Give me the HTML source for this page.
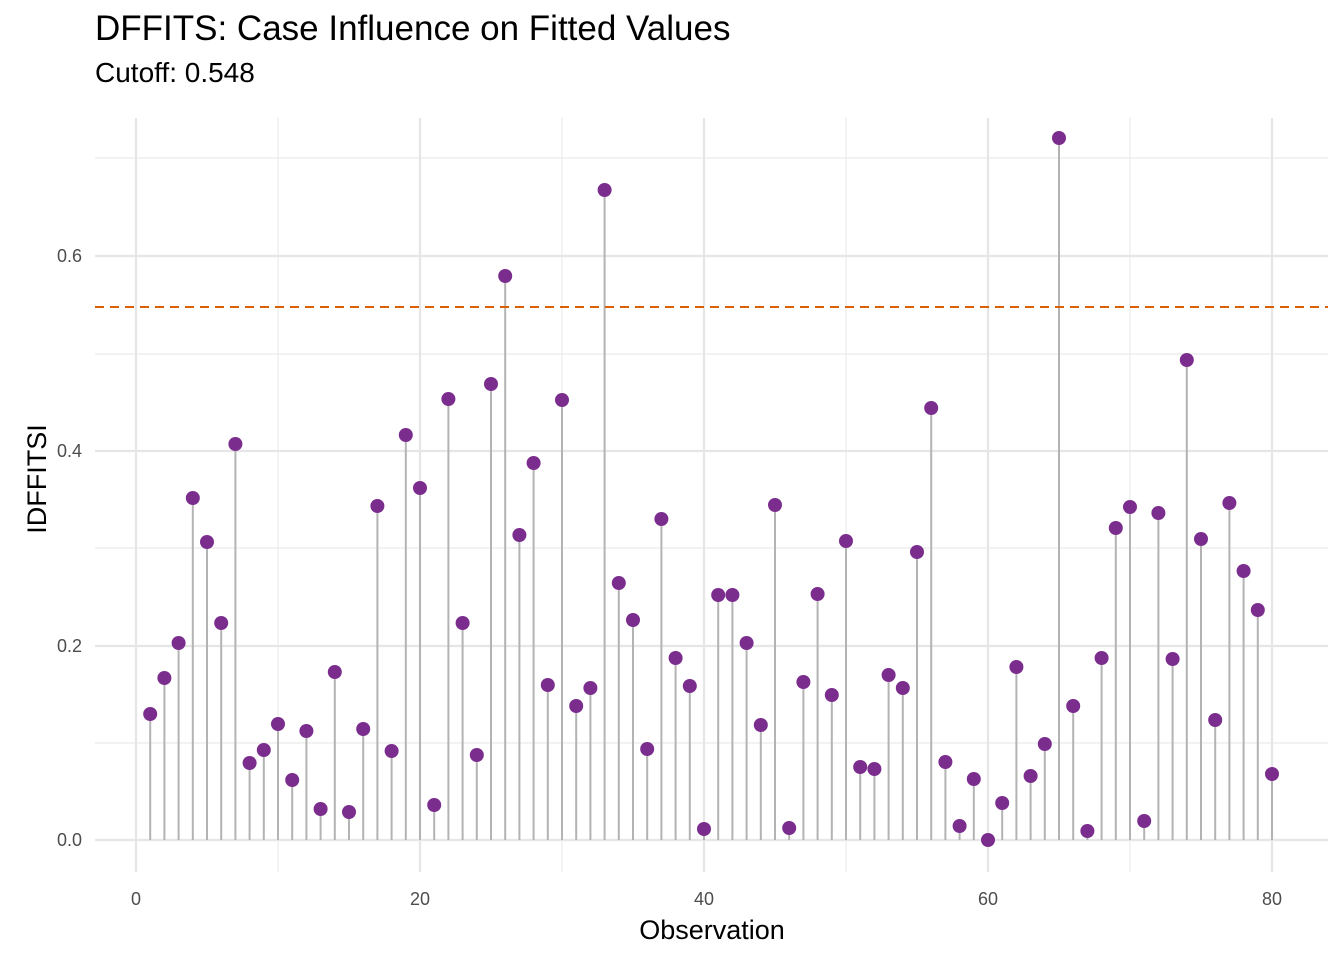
<!DOCTYPE html>
<html><head><meta charset="utf-8"><style>
html,body{margin:0;padding:0;background:#fff;}
svg{display:block;font-family:"Liberation Sans",Arial,sans-serif;}
</style></head><body>
<svg width="1344" height="960" viewBox="0 0 1344 960" xmlns="http://www.w3.org/2000/svg">
<rect width="1344" height="960" fill="#fff"/>
<g stroke="#ebebeb" stroke-width="1.2">
<line x1="95" x2="1328" y1="743" y2="743"/><line x1="95" x2="1328" y1="548" y2="548"/>
<line x1="95" x2="1328" y1="354" y2="354"/><line x1="95" x2="1328" y1="158" y2="158"/>
<line x1="278" x2="278" y1="118" y2="872"/><line x1="562" x2="562" y1="118" y2="872"/>
<line x1="846" x2="846" y1="118" y2="872"/><line x1="1130" x2="1130" y1="118" y2="872"/>
</g>
<g stroke="#e6e6e6" stroke-width="2.2">
<line x1="95" x2="1328" y1="840" y2="840"/><line x1="95" x2="1328" y1="646" y2="646"/>
<line x1="95" x2="1328" y1="451" y2="451"/><line x1="95" x2="1328" y1="256" y2="256"/>
<line x1="136" x2="136" y1="118" y2="872"/><line x1="420" x2="420" y1="118" y2="872"/>
<line x1="704" x2="704" y1="118" y2="872"/><line x1="988" x2="988" y1="118" y2="872"/>
<line x1="1272" x2="1272" y1="118" y2="872"/>
</g>
<g stroke="#b3b3b3" stroke-width="2">
<line x1="150.2" x2="150.2" y1="840" y2="714"/><line x1="164.4" x2="164.4" y1="840" y2="678"/><line x1="178.6" x2="178.6" y1="840" y2="643"/><line x1="192.8" x2="192.8" y1="840" y2="498"/><line x1="207" x2="207" y1="840" y2="542"/><line x1="221.2" x2="221.2" y1="840" y2="623"/><line x1="235.4" x2="235.4" y1="840" y2="444"/><line x1="249.6" x2="249.6" y1="840" y2="763"/><line x1="263.8" x2="263.8" y1="840" y2="750"/><line x1="278" x2="278" y1="840" y2="724"/>
<line x1="292.2" x2="292.2" y1="840" y2="780"/><line x1="306.4" x2="306.4" y1="840" y2="731"/><line x1="320.6" x2="320.6" y1="840" y2="809"/><line x1="334.8" x2="334.8" y1="840" y2="672"/><line x1="349" x2="349" y1="840" y2="812"/><line x1="363.2" x2="363.2" y1="840" y2="729"/><line x1="377.4" x2="377.4" y1="840" y2="506"/><line x1="391.6" x2="391.6" y1="840" y2="751"/><line x1="405.8" x2="405.8" y1="840" y2="435"/><line x1="420" x2="420" y1="840" y2="488"/>
<line x1="434.2" x2="434.2" y1="840" y2="805"/><line x1="448.4" x2="448.4" y1="840" y2="399"/><line x1="462.6" x2="462.6" y1="840" y2="623"/><line x1="476.8" x2="476.8" y1="840" y2="755"/><line x1="491" x2="491" y1="840" y2="384"/><line x1="505.2" x2="505.2" y1="840" y2="276"/><line x1="519.4" x2="519.4" y1="840" y2="535"/><line x1="533.6" x2="533.6" y1="840" y2="463"/><line x1="547.8" x2="547.8" y1="840" y2="685"/><line x1="562" x2="562" y1="840" y2="400"/>
<line x1="576.2" x2="576.2" y1="840" y2="706"/><line x1="590.4" x2="590.4" y1="840" y2="688"/><line x1="604.6" x2="604.6" y1="840" y2="190"/><line x1="618.8" x2="618.8" y1="840" y2="583"/><line x1="633" x2="633" y1="840" y2="620"/><line x1="647.2" x2="647.2" y1="840" y2="749"/><line x1="661.4" x2="661.4" y1="840" y2="519"/><line x1="675.6" x2="675.6" y1="840" y2="658"/><line x1="689.8" x2="689.8" y1="840" y2="686"/><line x1="704" x2="704" y1="840" y2="829"/>
<line x1="718.2" x2="718.2" y1="840" y2="595"/><line x1="732.4" x2="732.4" y1="840" y2="595"/><line x1="746.6" x2="746.6" y1="840" y2="643"/><line x1="760.8" x2="760.8" y1="840" y2="725"/><line x1="775" x2="775" y1="840" y2="505"/><line x1="789.2" x2="789.2" y1="840" y2="828"/><line x1="803.4" x2="803.4" y1="840" y2="682"/><line x1="817.6" x2="817.6" y1="840" y2="594"/><line x1="831.8" x2="831.8" y1="840" y2="695"/><line x1="846" x2="846" y1="840" y2="541"/>
<line x1="860.2" x2="860.2" y1="840" y2="767"/><line x1="874.4" x2="874.4" y1="840" y2="769"/><line x1="888.6" x2="888.6" y1="840" y2="675"/><line x1="902.8" x2="902.8" y1="840" y2="688"/><line x1="917" x2="917" y1="840" y2="552"/><line x1="931.2" x2="931.2" y1="840" y2="408"/><line x1="945.4" x2="945.4" y1="840" y2="762"/><line x1="959.6" x2="959.6" y1="840" y2="826"/><line x1="973.8" x2="973.8" y1="840" y2="779"/><line x1="988" x2="988" y1="840" y2="840"/>
<line x1="1002.2" x2="1002.2" y1="840" y2="803"/><line x1="1016.4" x2="1016.4" y1="840" y2="667"/><line x1="1030.6" x2="1030.6" y1="840" y2="776"/><line x1="1044.8" x2="1044.8" y1="840" y2="744"/><line x1="1059" x2="1059" y1="840" y2="138"/><line x1="1073.2" x2="1073.2" y1="840" y2="706"/><line x1="1087.4" x2="1087.4" y1="840" y2="831"/><line x1="1101.6" x2="1101.6" y1="840" y2="658"/><line x1="1115.8" x2="1115.8" y1="840" y2="528"/><line x1="1130" x2="1130" y1="840" y2="507"/>
<line x1="1144.2" x2="1144.2" y1="840" y2="821"/><line x1="1158.4" x2="1158.4" y1="840" y2="513"/><line x1="1172.6" x2="1172.6" y1="840" y2="659"/><line x1="1186.8" x2="1186.8" y1="840" y2="360"/><line x1="1201" x2="1201" y1="840" y2="539"/><line x1="1215.2" x2="1215.2" y1="840" y2="720"/><line x1="1229.4" x2="1229.4" y1="840" y2="503"/><line x1="1243.6" x2="1243.6" y1="840" y2="571"/><line x1="1257.8" x2="1257.8" y1="840" y2="610"/><line x1="1272" x2="1272" y1="840" y2="774"/>
</g>
<g fill="#7b2d8e">
<circle cx="150.2" cy="714" r="7"/><circle cx="164.4" cy="678" r="7"/><circle cx="178.6" cy="643" r="7"/><circle cx="192.8" cy="498" r="7"/><circle cx="207" cy="542" r="7"/><circle cx="221.2" cy="623" r="7"/><circle cx="235.4" cy="444" r="7"/><circle cx="249.6" cy="763" r="7"/><circle cx="263.8" cy="750" r="7"/><circle cx="278" cy="724" r="7"/>
<circle cx="292.2" cy="780" r="7"/><circle cx="306.4" cy="731" r="7"/><circle cx="320.6" cy="809" r="7"/><circle cx="334.8" cy="672" r="7"/><circle cx="349" cy="812" r="7"/><circle cx="363.2" cy="729" r="7"/><circle cx="377.4" cy="506" r="7"/><circle cx="391.6" cy="751" r="7"/><circle cx="405.8" cy="435" r="7"/><circle cx="420" cy="488" r="7"/>
<circle cx="434.2" cy="805" r="7"/><circle cx="448.4" cy="399" r="7"/><circle cx="462.6" cy="623" r="7"/><circle cx="476.8" cy="755" r="7"/><circle cx="491" cy="384" r="7"/><circle cx="505.2" cy="276" r="7"/><circle cx="519.4" cy="535" r="7"/><circle cx="533.6" cy="463" r="7"/><circle cx="547.8" cy="685" r="7"/><circle cx="562" cy="400" r="7"/>
<circle cx="576.2" cy="706" r="7"/><circle cx="590.4" cy="688" r="7"/><circle cx="604.6" cy="190" r="7"/><circle cx="618.8" cy="583" r="7"/><circle cx="633" cy="620" r="7"/><circle cx="647.2" cy="749" r="7"/><circle cx="661.4" cy="519" r="7"/><circle cx="675.6" cy="658" r="7"/><circle cx="689.8" cy="686" r="7"/><circle cx="704" cy="829" r="7"/>
<circle cx="718.2" cy="595" r="7"/><circle cx="732.4" cy="595" r="7"/><circle cx="746.6" cy="643" r="7"/><circle cx="760.8" cy="725" r="7"/><circle cx="775" cy="505" r="7"/><circle cx="789.2" cy="828" r="7"/><circle cx="803.4" cy="682" r="7"/><circle cx="817.6" cy="594" r="7"/><circle cx="831.8" cy="695" r="7"/><circle cx="846" cy="541" r="7"/>
<circle cx="860.2" cy="767" r="7"/><circle cx="874.4" cy="769" r="7"/><circle cx="888.6" cy="675" r="7"/><circle cx="902.8" cy="688" r="7"/><circle cx="917" cy="552" r="7"/><circle cx="931.2" cy="408" r="7"/><circle cx="945.4" cy="762" r="7"/><circle cx="959.6" cy="826" r="7"/><circle cx="973.8" cy="779" r="7"/><circle cx="988" cy="840" r="7"/>
<circle cx="1002.2" cy="803" r="7"/><circle cx="1016.4" cy="667" r="7"/><circle cx="1030.6" cy="776" r="7"/><circle cx="1044.8" cy="744" r="7"/><circle cx="1059" cy="138" r="7"/><circle cx="1073.2" cy="706" r="7"/><circle cx="1087.4" cy="831" r="7"/><circle cx="1101.6" cy="658" r="7"/><circle cx="1115.8" cy="528" r="7"/><circle cx="1130" cy="507" r="7"/>
<circle cx="1144.2" cy="821" r="7"/><circle cx="1158.4" cy="513" r="7"/><circle cx="1172.6" cy="659" r="7"/><circle cx="1186.8" cy="360" r="7"/><circle cx="1201" cy="539" r="7"/><circle cx="1215.2" cy="720" r="7"/><circle cx="1229.4" cy="503" r="7"/><circle cx="1243.6" cy="571" r="7"/><circle cx="1257.8" cy="610" r="7"/><circle cx="1272" cy="774" r="7"/>
</g>
<line x1="95" x2="1328" y1="307" y2="307" stroke="#d95f02" stroke-width="2" stroke-dasharray="9,6"/>
<g font-size="18" fill="#4d4d4d" text-anchor="end">
<text x="82" y="846">0.0</text><text x="82" y="652">0.2</text><text x="82" y="457">0.4</text><text x="82" y="262">0.6</text>
</g>
<g font-size="18" fill="#4d4d4d" text-anchor="middle">
<text x="136" y="905">0</text><text x="420" y="905">20</text><text x="704" y="905">40</text><text x="988" y="905">60</text><text x="1272" y="905">80</text>
</g>
<text x="712" y="939" font-size="27" text-anchor="middle" fill="#000">Observation</text>
<text transform="translate(46,479) rotate(-90)" font-size="27" text-anchor="middle" fill="#000">IDFFITSI</text>
<text x="95" y="40" font-size="35" fill="#000">DFFITS: Case Influence on Fitted Values</text>
<text x="95" y="82" font-size="28" fill="#000">Cutoff: 0.548</text>
</svg>
</body></html>
